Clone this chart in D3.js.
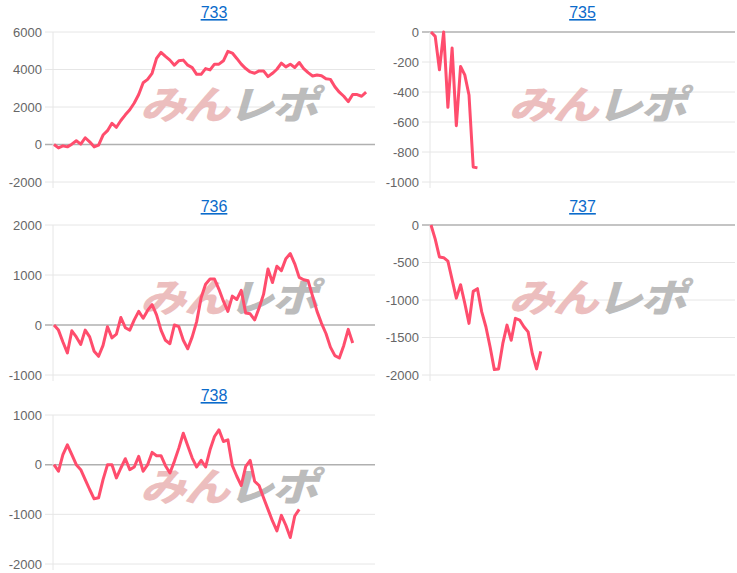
<!DOCTYPE html>
<html><head><meta charset="utf-8">
<script src="https://cdn.jsdelivr.net/npm/d3@7"></script>
<style>body{margin:0;background:#fff;font-family:"Liberation Sans",Arial,sans-serif}</style>
</head><body><svg id="c" width="737" height="573"></svg>
<script>
const titles = ["733","735","736","737","738"];
const s733 = [0,-180,-72,-126,18,198,18,360,144,-126,-36,504,738,1134,918,1278,1584,1854,2214,2664,3294,3474,3798,4590,4914,4698,4500,4230,4464,4500,4230,4104,3744,3744,4050,3978,4284,4284,4464,4968,4878,4590,4284,4050,3870,3798,3924,3924,3618,3798,4014,4338,4140,4284,4104,4374,4050,3834,3654,3708,3672,3510,3474,3078,2790,2574,2286,2664,2664,2574,2790];
const s735 = [0,-29,-252,0,-502,-107,-625,-230,-286,-420,-900,-906];
const s736 = [0,-102,-340,-558,-116,-238,-388,-102,-238,-524,-626,-408,-34,-258,-184,150,-54,-102,102,272,136,292,408,204,-102,-306,-374,0,-34,-306,-476,-238,68,544,816,918,918,714,476,272,578,510,694,238,224,102,340,612,1122,850,1176,1088,1326,1428,1224,952,904,884,578,272,34,-170,-442,-612,-660,-408,-88,-360];
const s737 = [0,-189,-427,-436,-481,-728,-975,-796,-1043,-1312,-885,-849,-1155,-1357,-1627,-1928,-1919,-1582,-1335,-1537,-1245,-1267,-1357,-1425,-1717,-1919,-1685];
const s738 = [0,-133,200,400,200,0,-100,-300,-500,-687,-667,-300,0,0,-267,-67,120,-100,-47,167,-133,0,247,180,180,-20,-167,67,333,633,380,133,-47,87,-47,300,567,700,467,500,-20,-233,-420,-33,87,-333,-420,-667,-900,-1133,-1333,-1020,-1220,-1467,-1033,-900];
const yDomains = [[-2000,6000],[-1000,0],[-1000,2000],[-2000,0],[-2000,1000]];
const yTicks = [[-2000,0,2000,4000,6000],[-1000,-800,-600,-400,-200,0],[-1000,0,1000,2000],[-2000,-1500,-1000,-500,0],[-2000,-1000,0,1000]];
const series = [s733,s735,s736,s737,s738];
const slots = 72;

const svg = d3.select("#c");
const cols = [{l:53,r:375},{l:430,r:735}];
const rows = [{t:32,b:182,ty:18},{t:225,b:375,ty:212},{t:415,b:564,ty:401}];

series.forEach((data,i)=>{
  const c = cols[i%2], r = rows[Math.floor(i/2)];
  const g = svg.append("g");
  const x = d3.scaleLinear().domain([0,slots]).range([c.l+1,c.r]);
  const y = d3.scaleLinear().domain(yDomains[i]).range([r.b,r.t]);
  g.selectAll("line.g").data(yTicks[i]).join("line")
    .attr("x1",c.l-8).attr("x2",c.r).attr("y1",d=>y(d)).attr("y2",d=>y(d))
    .attr("stroke",d=>d===0?"#b0b0b0":"#e6e6e6").attr("stroke-width",d=>d===0?1.5:1);
  g.append("line").attr("x1",c.l).attr("x2",c.l).attr("y1",r.t).attr("y2",r.b+6).attr("stroke","#e6e6e6");
  g.selectAll("text.t").data(yTicks[i]).join("text")
    .attr("x",c.l-11).attr("y",d=>y(d)+4.5).attr("text-anchor","end")
    .attr("font-size",13).attr("fill","#666").text(d=>d);
  const cx = (c.l+c.r)/2+14, cy = (r.t+r.b)/2+12;
  const wm = g.append("text").attr("x",cx).attr("y",cy).attr("text-anchor","middle")
    .attr("font-size",46).attr("font-weight","900").attr("font-style","italic")
    .attr("letter-spacing",-2)
    .attr("font-family","'Noto Sans CJK JP',sans-serif").attr("opacity",0.9)
    .attr("transform",`translate(${cx},${cy}) scale(1,0.85) translate(${-cx},${-cy})`);
  wm.append("tspan").attr("fill","#ebb8b8").text("みん");
  wm.append("tspan").attr("fill","#b5b5b5").text("レポ");
  g.append("text").attr("x",(c.l+c.r)/2).attr("y",r.ty).attr("text-anchor","middle")
    .attr("font-size",16).attr("fill","#0b6bcb").attr("text-decoration","underline").text(titles[i]);
  g.append("path").datum(data)
    .attr("d",d3.line().x((d,k)=>x(k)).y(d=>y(d)))
    .attr("fill","none").attr("stroke","#ff4d6d").attr("stroke-width",3).attr("stroke-linejoin","round");
});
</script></body></html>
